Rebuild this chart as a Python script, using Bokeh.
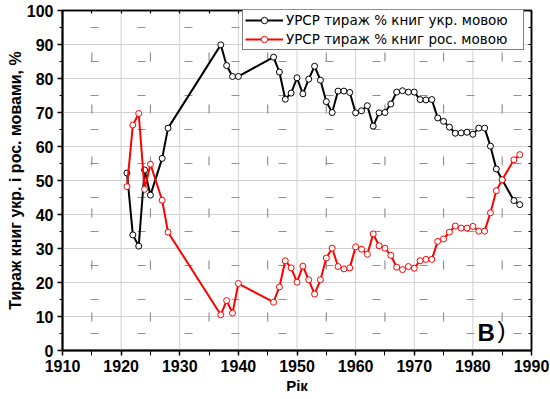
from bokeh.plotting import figure
from bokeh.models import (Range1d, FixedTicker, LinearAxis,
                          Legend, LegendItem, Label, ColumnDataSource)
from bokeh.embed import file_html
from bokeh.resources import INLINE

# ---------------- data ----------------
years = [1921, 1922, 1923, 1924, 1925, 1927, 1928, 1937, 1938, 1939, 1940,
         1946, 1947, 1948, 1949, 1950, 1951, 1952, 1953, 1954, 1955, 1956,
         1957, 1958, 1959, 1960, 1961, 1962, 1963, 1964, 1965, 1966, 1967,
         1968, 1969, 1970, 1971, 1972, 1973, 1974, 1975, 1976, 1977, 1978,
         1979, 1980, 1981, 1982, 1983, 1984, 1985, 1987, 1988]

ukr_pct = [52.2, 34.0, 30.7, 53.1, 45.7, 56.5, 65.4, 89.9, 83.8, 80.6, 80.6,
           86.3, 81.9, 73.9, 75.7, 80.2, 75.5, 79.8, 83.6, 79.5, 73.2, 70.0,
           76.3, 76.3, 75.9, 69.9, 70.5, 72.0, 66.0, 69.9, 70.0, 72.5, 76.0,
           76.4, 76.0, 76.0, 73.8, 73.7, 73.8, 68.4, 67.4, 65.7, 63.9, 64.0,
           64.2, 63.6, 65.4, 65.4, 60.1, 53.4, 50.2, 44.1, 42.9]

rus_pct = [48.2, 66.3, 69.7, 47.4, 54.8, 44.2, 34.8, 10.5, 14.7, 11.0, 19.7,
           14.2, 18.7, 26.4, 24.3, 20.1, 24.8, 20.8, 16.6, 20.8, 27.2, 30.1,
           24.7, 24.0, 24.3, 30.5, 29.8, 28.3, 34.3, 30.8, 30.1, 28.0, 24.5,
           23.8, 24.7, 24.2, 26.4, 26.8, 26.8, 32.1, 32.8, 34.8, 36.6, 36.0,
           36.0, 36.5, 35.1, 35.1, 40.5, 47.0, 50.2, 56.1, 57.6]

series_labels = ["УРСР тираж % книг укр. мовою", "УРСР тираж % книг рос. мовою"]
series_colors = ["#000000", "#ff0000"]
x_title = "Рік"
y_title = "Тираж книг укр. і рос. мовами, %"
panel_tag = "В"

# tick / grid positions
x_major_ticks = [1910, 1920, 1930, 1940, 1950, 1960, 1970, 1980, 1990]
x_minor_ticks = [1915, 1925, 1935, 1945, 1955, 1965, 1975, 1985]
y_major_ticks = [0, 10, 20, 30, 40, 50, 60, 70, 80, 90, 100]
y_minor_ticks = [5, 15, 25, 35, 45, 55, 65, 75, 85, 95]

src = ColumnDataSource(dict(year=years, ukr=ukr_pct, rus=rus_pct))

FONT = "Liberation Sans"

x_lo, x_hi = 1910, 1990
y_lo, y_hi = 0, 100

p = figure(width=550, height=399, output_backend="svg", toolbar_location=None,
           x_range=Range1d(x_lo, x_hi), y_range=Range1d(y_lo, y_hi),
           min_border_left=62, min_border_right=19, min_border_top=10,
           min_border_bottom=49)
p.outline_line_color = "#000000"
p.outline_line_width = 1.5
p.grid.visible = False

p.xaxis.ticker = FixedTicker(ticks=x_major_ticks, minor_ticks=x_minor_ticks)
p.yaxis.ticker = FixedTicker(ticks=y_major_ticks, minor_ticks=y_minor_ticks)

# ---- grid drawn from the tick lists
inner_x = x_major_ticks[1:-1]
inner_y = y_major_ticks[1:-1]
p.segment(x0=inner_x, y0=[y_lo] * len(inner_x), x1=inner_x, y1=[y_hi] * len(inner_x),
          line_color="#d2d2d2", line_width=1)
p.segment(x0=[x_lo] * len(inner_y), y0=inner_y, x1=[x_hi] * len(inner_y), y1=inner_y,
          line_color="#d2d2d2", line_width=1)
p.segment(x0=x_minor_ticks, y0=[y_lo] * len(x_minor_ticks), x1=x_minor_ticks,
          y1=[y_hi] * len(x_minor_ticks), line_color="#909090", line_width=1.2,
          line_dash="9 43", line_dash_offset=23)
p.segment(x0=[x_lo] * len(y_minor_ticks), y0=y_minor_ticks, x1=[x_hi] * len(y_minor_ticks),
          y1=y_minor_ticks, line_color="#909090", line_width=1.2,
          line_dash="8 39", line_dash_offset=19)

for ax in (p.xaxis[0], p.yaxis[0]):
    ax.axis_line_width = 2
    ax.axis_line_color = "#000000"
    ax.major_tick_out = 5
    ax.major_tick_in = 0
    ax.minor_tick_out = 3
    ax.minor_tick_in = 0
    ax.major_tick_line_width = 1.5
    ax.minor_tick_line_width = 1
    ax.major_label_text_font = FONT
    ax.major_label_text_font_style = "bold"
    ax.major_label_text_font_size = "16px"
    ax.major_label_text_color = "#000000"
    ax.axis_label_text_font = FONT
    ax.axis_label_text_font_style = "bold"
    ax.axis_label_text_color = "#000000"
p.xaxis.minor_tick_out = 5
p.xaxis.major_label_standoff = 4
p.yaxis.major_label_standoff = 4
p.xaxis.axis_label = x_title
p.xaxis.axis_label_text_font_size = "15px"
p.xaxis.axis_label_standoff = 2
p.yaxis.axis_label = y_title
p.yaxis.axis_label_text_font_size = "16px"
p.yaxis.axis_label_standoff = 0

# mirrored axes with inward ticks, no labels
for loc, marks in (("above", x_major_ticks + x_minor_ticks),
                   ("right", y_major_ticks + y_minor_ticks)):
    ax = LinearAxis(ticker=FixedTicker(ticks=[], minor_ticks=marks))
    ax.axis_line_width = 1.5
    ax.minor_tick_in = 3
    ax.minor_tick_out = 0
    ax.minor_tick_line_width = 1.2
    ax.major_label_standoff = 0
    p.add_layout(ax, loc)

r_items = []
for col, color in zip(["ukr", "rus"], series_colors):
    ln = p.line("year", col, source=src, line_color=color, line_width=2)
    sc = p.scatter("year", col, source=src, marker="circle", size=6,
                   line_color=color, line_width=1, fill_color="white")
    r_items.append([ln, sc])

legend = Legend(items=[LegendItem(label=lab, renderers=rs)
                       for lab, rs in zip(series_labels, r_items)],
                location=(180, 300), orientation="vertical")
legend.border_line_color = "#000000"
legend.border_line_width = 1
legend.background_fill_color = "white"
legend.background_fill_alpha = 1
legend.padding = 2
legend.margin = 0
legend.spacing = 3
legend.glyph_width = 38
legend.glyph_height = 16
legend.label_height = 16
legend.label_width = 235
legend.label_standoff = 3
legend.label_text_font = "DejaVu Sans"
legend.label_text_font_size = "13.5px"
legend.label_text_color = "#000000"
p.add_layout(legend, "center")

tag = Label(x=415, y=18, x_units="screen", y_units="screen", text=panel_tag,
            text_font=FONT, text_font_style="bold", text_font_size="24px",
            text_color="#000000", text_baseline="alphabetic", text_align="left")
paren = Label(x=435, y=21, x_units="screen", y_units="screen", text=")",
              text_font=FONT, text_font_size="24px", text_color="#000000",
              text_baseline="alphabetic", text_align="left")
p.add_layout(tag)
p.add_layout(paren)

open("out.html", "w").write(file_html(p, INLINE))
